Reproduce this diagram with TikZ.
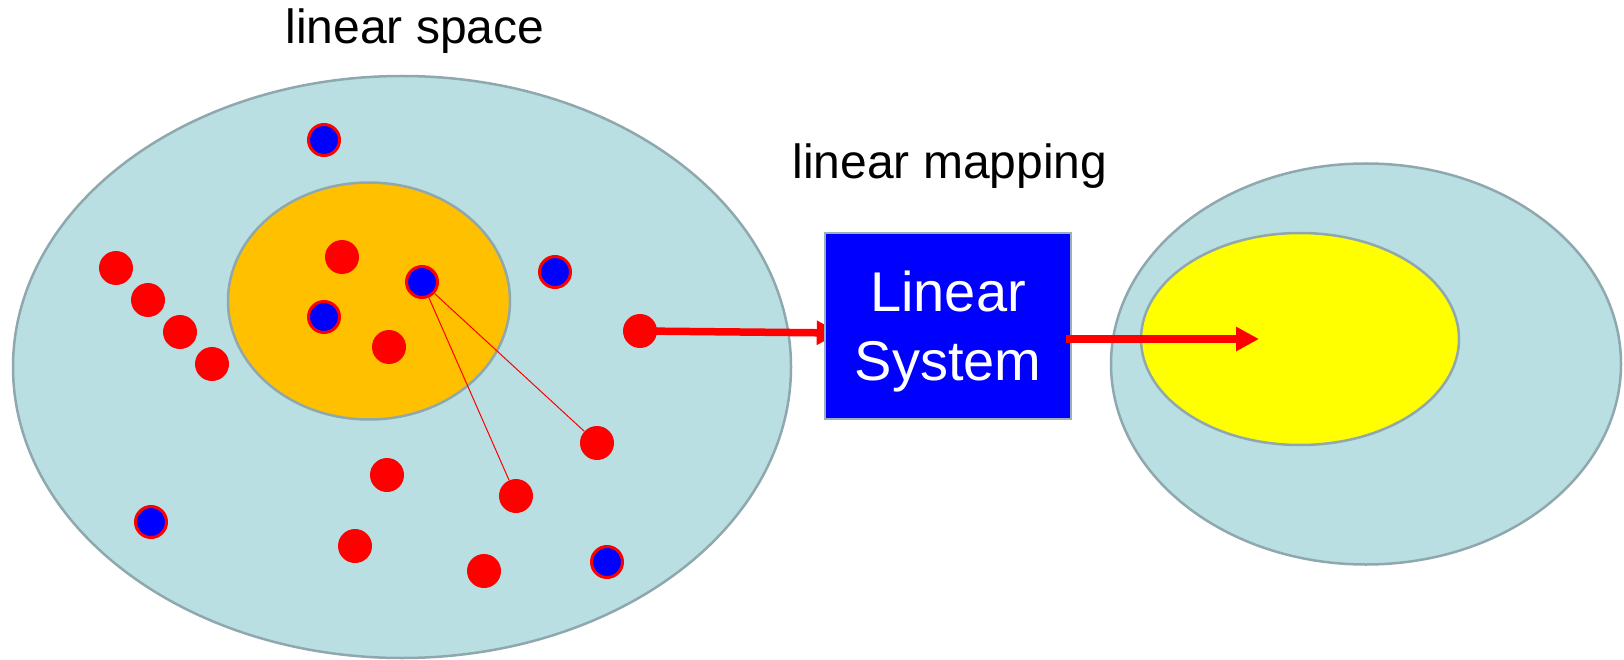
\documentclass[tikz,border=0pt]{standalone}
\usepackage{fontspec}
\setmainfont{Liberation Sans}
\usetikzlibrary{shapes.geometric, arrows.meta, positioning, calc, backgrounds}
\definecolor{spacebg}{RGB}{185, 223, 227}
\definecolor{spaceline}{RGB}{143, 168, 173}
\definecolor{subspace}{RGB}{255, 192, 0}
\definecolor{imagefill}{RGB}{255, 255, 0}
\definecolor{sysblue}{RGB}{0, 0, 255}
\definecolor{sysline}{RGB}{155, 176, 184}

\begin{document}
\begin{tikzpicture}[
    x=1pt, y=-1pt,
    region/.style={ellipse, draw=spaceline, line width=2.5pt, inner sep=0pt},
    reddot/.style={circle, fill=red, inner sep=0pt, minimum size=34pt},
    bluedot/.style={circle, fill=sysblue, draw=red, line width=3pt, inner sep=0pt, minimum size=31pt},
    label/.style={anchor=base, font=\fontsize{48pt}{58pt}\selectfont},
    sysbox/.style={rectangle, fill=sysblue, draw=sysline, line width=2.5pt, minimum width=246pt, minimum height=186pt, align=center, text=white, font=\fontsize{56pt}{69pt}\selectfont},
    link/.style={draw=red, line width=1pt},
    arrow/.style={-{Triangle[length=23pt, width=23pt]}, line width=7.5pt, draw=red}
]
    \useasboundingbox (0,0) rectangle (1624,660);

    \begin{scope}[on background layer]
        \node[region, fill=spacebg, minimum width=778pt, minimum height=582pt] (space) at (402,367) {};
        \node[region, fill=subspace, minimum width=282pt, minimum height=237pt] (sub) at (369,301) {};
        \node[region, fill=spacebg, minimum width=510pt, minimum height=401pt] (range) at (1366,364) {};
        \node[region, fill=imagefill, minimum width=318pt, minimum height=212pt] (img) at (1300,339) {};
    \end{scope}

    \node[label] (spacelbl) at (415,44) {linear space};
    \node[label] (maplbl) at (950,179) {linear mapping};

    % vectors
    \node[bluedot] (b1) at (324,140) {};
    \node[bluedot] (b2) at (422,282) {};
    \node[bluedot] (b3) at (324,317) {};
    \node[bluedot] (b4) at (555,272) {};
    \node[bluedot] (b5) at (151,522) {};
    \node[bluedot] (b6) at (607,562) {};

    \node[reddot] (r1) at (116,268) {};
    \node[reddot] (r2) at (148,300) {};
    \node[reddot] (r3) at (180,332) {};
    \node[reddot] (r4) at (212,364) {};
    \node[reddot] (r5) at (342,257) {};
    \node[reddot] (r6) at (389,347) {};
    \node[reddot] (r7) at (640,331) {};
    \node[reddot] (r8) at (597,443) {};
    \node[reddot] (r9) at (516,496) {};
    \node[reddot] (r10) at (387,475) {};
    \node[reddot] (r11) at (355,546) {};
    \node[reddot] (r12) at (484,571) {};

    \node[sysbox] (sys) at (948,326) {\rule{0pt}{51pt}Linear\\System};

    \coordinate (inA) at ([shift={(16,7)}]sys.west);
    \coordinate (outA) at ([shift={(-6,13)}]sys.east);
    \coordinate (hit) at ([xshift=-41pt]img.center);

    \begin{scope}[on background layer]
        \draw[link] (b2) -- (r8);
        \draw[link] (b2) -- (r9);
        \draw[arrow] (r7.center) -- (inA);
    \end{scope}

    \draw[arrow] (outA) -- (hit);
\end{tikzpicture}
\end{document}
